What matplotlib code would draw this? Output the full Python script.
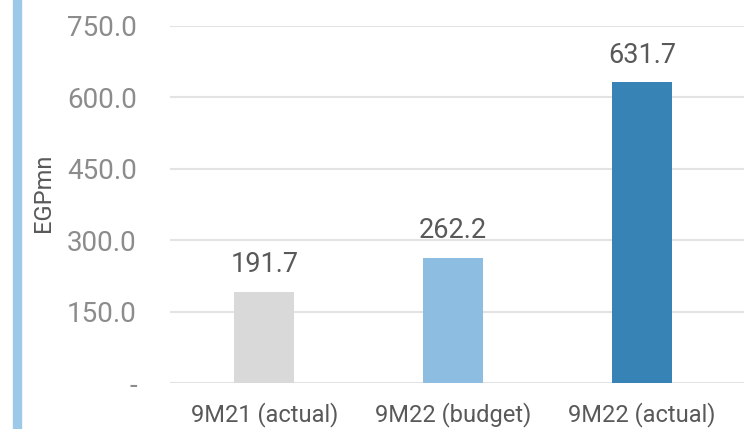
import matplotlib.pyplot as plt
from matplotlib.patches import Rectangle

categories = ['9M21 (actual)', '9M22 (budget)', '9M22 (actual)']
values = [191.7, 262.2, 631.7]
barColours = ['#d9d9d9', '#8dbde0', '#3783b6']
yTicks = [0, 150, 300, 450, 600, 750]
yTickLabels = ['-', '150.0', '300.0', '450.0', '600.0', '750.0']

plt.rcParams['font.family'] = ['Roboto', 'DejaVu Sans']

fig = plt.figure(figsize=(7.44, 4.29), dpi=100)
ax = fig.add_axes([0.2285, 0.1072, 0.7715, 0.8322])

# blue stripe on the left edge of the slide
fig.patches.append(Rectangle((13 / 744, 0), 8 / 744, 1, transform=fig.transFigure,
                             color='#9dc9e8', zorder=0))

positions = list(range(len(categories)))
ax.bar(positions, values, width=0.317, color=barColours, zorder=3)

for x, v in zip(positions, values):
    ax.text(x, v + 29, f'{v:.1f}', ha='center', va='bottom', fontsize=19.5, color='#595959')

ax.set_xlim(-0.5, 2.54)
ax.set_ylim(0, 750)
ax.set_yticks(yTicks)
ax.set_yticklabels(yTickLabels, fontsize=20, color='#8c8c8c')
ax.set_xticks(positions)
ax.set_xticklabels(categories, fontsize=17, color='#595959')
ax.tick_params(axis='both', length=0)
ax.tick_params(axis='y', pad=24)
ax.tick_params(axis='x', pad=14)
fig.text(44 / 744, 1 - 193 / 429, 'EGPmn', rotation=90, ha='center', va='center',
         fontsize=17, color='#595959')

ax.grid(axis='y', color='#e3e3e3', linewidth=1.5, zorder=0)
for spine in ax.spines.values():
    spine.set_visible(False)

fig.savefig('out.png', dpi=100)
